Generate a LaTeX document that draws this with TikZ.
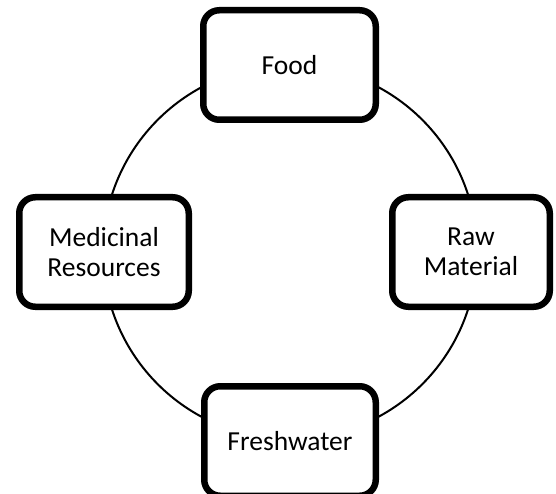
\documentclass[tikz,border=0pt]{standalone}
\usepackage{fontspec}
\setmainfont{Carlito}
\begin{document}
\begin{tikzpicture}[x=1pt,y=-1pt,
  ring/.style={draw, line width=2pt},
  itembox/.style={draw, fill=white, line width=6.5pt, rounded corners=16pt,
    align=center, inner sep=0pt, minimum height=109.5pt,
    font=\fontsize{27.5}{30}\selectfont}]
  \useasboundingbox (0,0) rectangle (556,494);
  % the cycle behind the boxes
  \coordinate (c) at (290,252);
  \draw[ring] (c) circle (187);
  % the four resources
  \node[itembox, minimum width=172.5pt] (food)  at (289.5,65)  {Food};
  \node[itembox, minimum width=169.5pt] (med)   at (104,252)   {Medicinal\\Resources};
  \node[itembox, minimum width=157.5pt] (raw)   at (471,252)   {Raw\\Material};
  \node[itembox, minimum width=171.5pt] (fresh) at (290,441)   {Freshwater};
\end{tikzpicture}
\end{document}
